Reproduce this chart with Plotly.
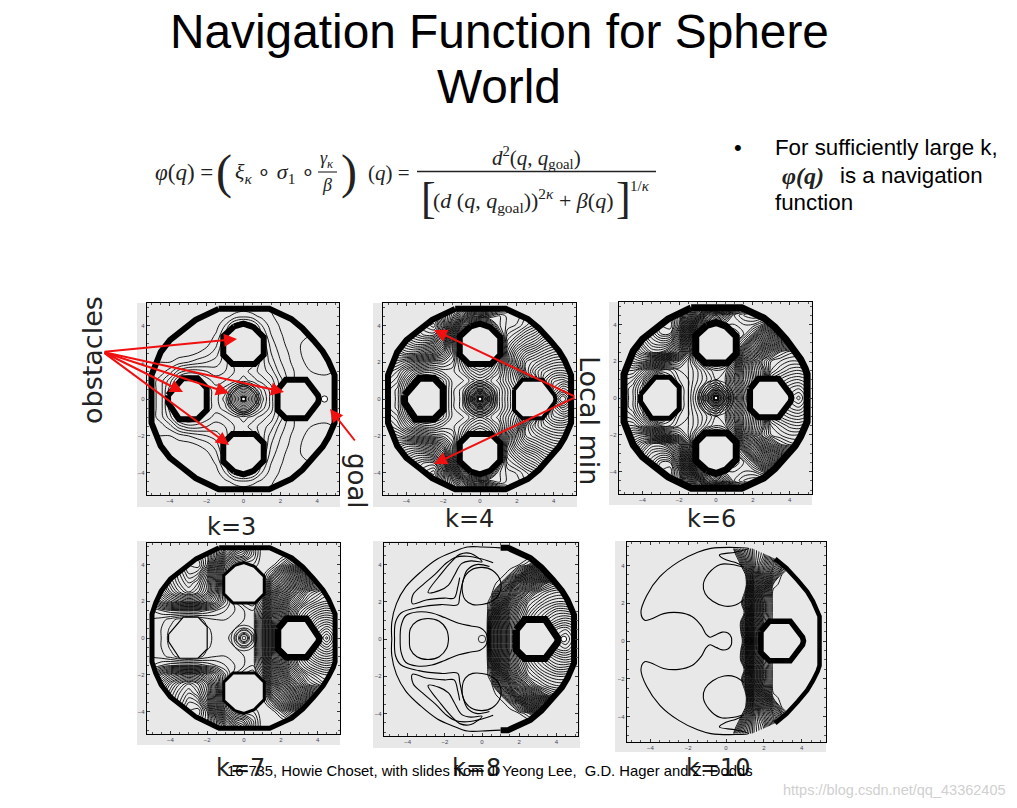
import plotly.graph_objects as go

W, H = 1017, 808
# ---------- data ----------
k_labels = ["k=3", "k=4", "k=6", "k=7", "k=8", "k=10"]
tick_vals = [-4, -2, 0, 2, 4]
x_full = [-5, -4.5, -4, -3.5, -3, -2.5, -2, -1.5, -1, -.5, 0, .5, 1, 1.5, 2, 2.5, 3, 3.5, 4, 4.5, 5]
x_right = [-5, 0, .5, 1, 1.5, 2, 2.5, 3, 3.5, 4, 4.5, 5]
x_right_k8 = [-5, .25, .5, 1, 1.5, 2, 2.5, 3, 3.5, 4, 4.5, 5]
y_half = [0, .5, 1, 1.5, 2, 2.5, 3, 3.5, 4, 4.5, 5]

z_k3 = [
 [4, 5, 8, 11, 12, 11, 10, 9, 11, 16, 24, 16, 11, 8, 5, 3, 2, 2, 1.8, 1.7, 2],
 [4, 5, 8, 11, 12, 11, 10, 9, 10, 13, 16, 13, 10, 8, 5, 3, 2, 2, 2, 2, 2],
 [4, 5, 7, 10, 11, 10, 9, 8, 8.5, 9, 10, 9, 8, 7, 5, 3, 2, 2, 2, 2, 2],
 [4, 4, 5, 7, 8, 8, 7.5, 7, 7.5, 8.5, 9, 8, 7, 6, 4, 3, 2, 1.6, 1.3, 1.2, 1.6],
 [3.5, 3.5, 3.5, 4, 4.5, 5, 5.5, 6, 7, 9, 10, 9, 7, 5, 3.6, 2.6, 1.8, 1.3, 1.1, 1.1, 1.2],
 [3, 3, 3, 3, 3, 3.5, 4, 5, 7, 10, 11, 10, 7, 4.5, 3.2, 2.4, 1.6, 1.2, 1, 1, 1.1],
 [2.6, 2.6, 2.6, 2.6, 2.6, 2.8, 3.2, 4.2, 6.5, 10, 11, 10, 6.5, 4, 2.8, 2.2, 1.6, 1.2, 1, 1, 1.1],
 [2.6, 2.6, 2.6, 2.6, 2.6, 2.6, 2.8, 3.6, 5.5, 9, 11, 9, 5.5, 3.5, 2.6, 2.1, 1.7, 1.6, 1.5, 1.4, 1.4],
 [2.6, 2.6, 2.6, 2.6, 2.6, 2.6, 2.6, 3, 4.5, 7, 8, 7, 4.5, 3, 2.4, 2, 1.8, 1.8, 1.8, 1.8, 1.8],
 [2.6, 2.6, 2.6, 2.6, 2.6, 2.6, 2.6, 2.8, 3.2, 3.8, 4.2, 3.8, 3.2, 2.6, 2.2, 2, 1.9, 1.9, 1.9, 1.9, 1.9],
 [2.6, 2.6, 2.6, 2.6, 2.6, 2.6, 2.6, 2.6, 2.7, 2.8, 2.9, 2.8, 2.7, 2.4, 2.2, 2, 1.9, 1.9, 1.9, 1.9, 1.9],
]
z_k4 = [
 [20, 21, 24, 27, 28, 27, 25, 23, 24, 27, 30, 27, 24, 22, 20, 16, 12, 7, 3, 0, 3],
 [20, 21, 24, 27, 28, 27, 25, 23, 24, 26, 27, 26, 24, 22, 20, 17, 13, 9, 5, 3, 4],
 [19, 20, 23, 26, 27, 26, 25, 23, 23, 24, 25, 24, 23, 21, 19, 16, 12, 8, 6, 5.5, 6.5],
 [18, 19, 21, 23, 24, 24, 23, 23, 24, 26, 27, 26, 24, 21, 18, 13, 10.5, 9, 8.2, 8, 8.5],
 [17, 17, 18, 19, 20, 21, 21, 22, 25, 28, 29, 28, 25, 20, 16, 13, 12, 11, 10.2, 10, 10.4],
 [16, 15, 14, 14, 15, 16, 18, 21, 26, 30, 30, 30, 26, 20, 17, 15, 14, 13, 12.2, 12, 12.4],
 [14, 13, 12, 11, 11, 12, 15, 21, 27, 30, 30, 30, 27, 21, 19, 17.5, 16.5, 15, 14.2, 14, 14.4],
 [13, 11, 10, 9, 8, 8, 12, 19, 26, 30, 30, 30, 26, 22, 21, 19.5, 18.5, 17, 16.2, 16, 16.4],
 [12, 10, 9, 8, 7, 6, 10, 16, 23, 28, 29, 28, 24, 23, 22.5, 21.5, 20.5, 19, 18.2, 18, 18.4],
 [11, 10, 9, 8, 8, 8, 11, 14, 18, 22, 23, 23, 24, 23, 23, 22, 21.5, 21, 20.5, 20, 20.5],
 [11, 10, 9, 9, 9, 9, 11, 13, 15, 16, 17, 18, 20, 22, 23, 23, 23, 23, 23, 23, 23],
]
z_k6 = [
 [34, 36, 40, 46, 50, 46, 42, 40, 44, 50, 56, 50, 42, 34, 28, 20, 14, 8, 2.5, .5, 4],
 [34, 36, 40, 46, 50, 46, 42, 40, 43, 47, 50, 46, 40, 33, 27, 20, 10, 6, 4, 3, 5],
 [33, 34, 38, 44, 48, 44, 41, 40, 42, 44, 46, 45, 38, 31, 26, 20, 10, 8, 6.5, 6, 7],
 [31, 31, 34, 38, 42, 42, 40, 40, 42, 45, 47, 46, 40, 31, 25, 20, 13, 11, 9.5, 9, 10],
 [29, 27, 26, 28, 31, 34, 36, 40, 45, 50, 52, 50, 44, 33, 25, 18, 14, 13, 12, 12, 12.5],
 [27, 24, 21, 18, 18, 21, 27, 36, 46, 52, 54, 54, 48, 39, 32, 25, 20, 16, 14.5, 14, 15],
 [25, 22, 18, 15, 14, 15, 22, 34, 46, 54, 56, 54, 50, 46, 38, 33, 28, 24, 22, 22, 23],
 [24, 20, 16, 13, 10, 10, 18, 31, 45, 54, 58, 54, 52, 50, 46, 40, 36, 33, 33, 33, 33],
 [24, 19, 15, 12, 9, 8, 14, 26, 40, 50, 56, 50, 50, 50, 50, 48, 45, 44, 44, 44, 45],
 [24, 20, 16, 13, 11, 10, 14, 22, 32, 44, 50, 44, 50, 52, 53, 53, 53, 52, 52, 52, 52],
 [24, 21, 18, 15, 14, 14, 16, 20, 26, 32, 36, 32, 40, 46, 50, 52, 53, 53, 53, 53, 53],
]
z_k7 = [
 [55, 56, 57.5, 59, 60, 59, 57.5, 56.5, 56.5, 58, 60, 58, 50, 38, 28, 20, 14, 9, 4, .5, 5],
 [55, 56, 57.2, 58.5, 59, 58.5, 57.2, 56.5, 56.5, 57, 58, 58, 50, 38, 28, 20, 14, 10, 6, 4, 6],
 [55, 55.5, 56.5, 57.5, 58, 57.5, 56.5, 56, 56, 56.5, 57, 58, 50, 38, 30, 22, 16, 12, 9, 8, 9],
 [54, 53, 52, 52, 52, 52, 53, 54, 55, 56, 57, 58, 52, 41, 32, 24, 18, 15, 13, 12, 13],
 [50, 46, 43, 41, 40, 41, 44, 48, 53, 57, 59, 60, 55, 44, 36, 28, 23, 19, 17, 16, 17],
 [46, 42, 38, 35, 33, 35, 39, 46, 54, 58, 60, 61, 59, 48, 40, 33, 27, 22, 20, 18, 20],
 [44, 40, 36, 33, 31, 33, 38, 46, 55, 60, 62, 62, 62, 52, 46, 40, 34, 30, 27, 26, 27],
 [43, 39, 35, 32, 29, 30, 36, 45, 54, 60, 62, 62, 62, 58, 52, 47, 42, 39, 37, 36, 37],
 [43, 38, 34, 31, 28, 27, 32, 42, 52, 58, 60, 60, 62, 62, 59, 55, 52, 50, 48, 48, 49],
 [43, 39, 35, 32, 30, 29, 32, 38, 46, 52, 54, 58, 62, 62, 62, 60, 58, 58, 58, 58, 58],
 [43, 40, 37, 34, 33, 32, 34, 38, 42, 46, 50, 58, 62, 62, 62, 62, 60, 60, 60, 60, 60],
]
z_k8 = [
 [60, 60, 50, 38, 27, 20, 14, 10, 6, 2.5, .5, 4],
 [60, 60, 50, 38, 27, 20, 15, 11, 7, 4, 3, 5],
 [60, 60, 52, 39, 28, 21, 16, 13, 10, 8, 7, 8],
 [60, 60, 55, 41, 30, 23, 18, 15, 13, 11, 11, 12],
 [60, 60, 57, 46, 34, 26, 20, 18, 16, 15, 15, 16],
 [60, 60, 60, 50, 41, 32, 25, 21, 19, 18, 18, 19],
 [60, 60, 60, 58, 50, 40, 34, 29, 24, 22, 22, 23],
 [60, 60, 60, 60, 58, 52, 45, 40, 36, 33, 32, 33],
 [60, 60, 60, 60, 60, 59, 57, 52, 47, 45, 44, 45],
 [60, 60, 60, 60, 60, 60, 60, 59, 58, 56, 56, 57],
 [60, 60, 60, 60, 60, 60, 60, 60, 60, 60, 60, 60],
]
z_k10 = [
 [60, 60, 60, 45, 20, 4, 0, 0, 0, 0, 0, 0],
 [60, 60, 58, 42, 20, 6, 0, 0, 0, 0, 0, 0],
 [60, 60, 57, 42, 22, 8, 0, 0, 0, 0, 0, 0],
 [60, 60, 60, 48, 25, 10, 0, 0, 0, 0, 0, 0],
 [60, 60, 58, 44, 25, 10, 0, 0, 0, 0, 0, 0],
 [60, 60, 60, 48, 28, 12, 0, 0, 0, 0, 0, 0],
 [60, 60, 60, 52, 32, 18, 2, 0, 0, 0, 0, 0],
 [60, 60, 60, 50, 34, 22, 10, 0, 0, 0, 0, 0],
 [60, 60, 56, 44, 32, 24, 16, 7, 0, 0, 0, 0],
 [60, 60, 50, 40, 32, 27, 18, 5, 0, 0, 0, 0],
 [60, 60, 45, 38, 32, 28, 18, 5, 0, 0, 0, 0],
]

# obstacle and wall outlines
wall_x = [-1.35, 1.4, 2.6, 3.2, 3.8, 4.3, 4.6, 4.85, 4.95, 4.95, 4.85, 4.6, 4.3, 3.8, 3.2, 2.6, 1.4,
          -1.35, -2.6, -3.3, -4, -4.5, -4.8, -5, -5, -4.8, -4.5, -4, -3.3, -2.6, -1.35]
wall_y = [4.9, 4.9, 4.35, 3.85, 3.2, 2.6, 2.1, 1.6, 1.3, -1.3, -1.6, -2.1, -2.6, -3.2, -3.85, -4.35, -4.9,
          -4.9, -4.3, -3.75, -3.2, -2.55, -1.9, -1.3, 1.3, 1.9, 2.55, 3.2, 3.75, 4.3, 4.9]
wall_k8_x = [1.0, 1.4, 2.6, 3.2, 3.8, 4.3, 4.6, 4.85, 4.95, 4.95, 4.85, 4.6, 4.3, 3.8, 3.2, 2.6, 1.4, 1.0]
wall_k8_y = [4.9, 4.9, 4.35, 3.85, 3.2, 2.6, 2.1, 1.6, 1.3, -1.3, -1.6, -2.1, -2.6, -3.2, -3.85, -4.35, -4.9, -4.9]
wall_k10_x = wall_k8_x[2:-2]
wall_k10_y = wall_k8_y[2:-2]
top_x = [-.5, 0, .55, 1.1, 1.1, .6, -.6, -1.1, -1.1, -.5]
top_y = [3.95, 4.1, 3.9, 3.35, 2.4, 1.9, 1.9, 2.4, 3.4, 3.95]
bottom_y = [-3.95, -4.1, -3.9, -3.35, -2.4, -1.9, -1.9, -2.4, -3.4, -3.95]
left_x = [-4.1, -3.3, -2.5, -2, -2, -2.5, -3.5, -4.1, -4.1]
left_y = [.2, 1.13, 1.13, .6, -.6, -1.1, -1.1, -.2, .2]
right_x = [1.85, 2.3, 3.4, 4.05, 4.1, 4.05, 3.4, 2.3, 1.85, 1.85]
right_y = [.5, 1.05, 1.05, .2, 0, -.2, -1.05, -1.05, -.6, .5]

# sparse contours typed from the two rightmost lower panels (upper half; mirrored below)
k10_outer_x = [.3, .28, .1, -.2, -.5, -.85, -1.05, -1.3, -1.8, -2.5, -3.3, -4, -4.3, -4.5, -4.2, -3.5, -2.5, -1.5, -.8, .5, 1.2, .5, -.35, 0, .5, .85]
k10_outer_y = [0, .2, .42, .47, .35, .2, .35, .8, 1.3, 1.5, 1.45, 1.15, 1.1, 1.5, 2.4, 3.4, 4.2, 4.7, 4.9, 4.95, 4.9, 4.7, 4.55, 4.3, 4.15, 4.0]
k10_ring_x = [.95, .3, -.3, -.9, -1.2, -1.1, -.7, -.1, .5, .95]
k10_ring_y = [3.9, 4.05, 4.05, 3.6, 3, 2.5, 2.1, 1.85, 1.9, 2.2]
k8_a_x = [-4.4, -4.35, -4.1, -3.5, -2.7, -2, -1.25, -.6, -.1, .2, .3]
k8_a_y = [0, .7, 1.25, 1.45, 1.4, 1.15, .85, .7, .6, .35, 0]
k8_b_x = [-3.9, -3.85, -3.5, -2.9, -2.3, -1.9, -1.8]
k8_b_y = [0, .55, .95, 1.1, .95, .5, 0]
k8_c_x = [-4.85, -4.85, -4.6, -4.1, -3.3, -2.4, -1.5, -.8, 0, 1]
k8_c_y = [0, .9, 1.9, 2.8, 3.6, 4.3, 4.7, 4.95, 4.95, 4.9]
k8_d_x = [-4.7, -4.65, -4.35, -3.4, -2.2, -1.3, -1.2, -1.05, -.8, -.3, .4]
k8_d_y = [0, .9, 1.4, 1.7, 1.85, 1.85, 2.3, 3, 3.7, 4, 3.9]
k8_e_x = [.6, 0, -.8, -1.4, -1.9, -2.5, -3.2, -3.7, -3.75, -3, -2, -1.5, -1.3, -1.2]
k8_e_y = [4.1, 4.3, 4.45, 4.4, 4.1, 3.5, 2.9, 2.4, 1.9, 2.1, 2.2, 2.2, 2.8, 3.3]
k8_f_x = [-2.9, -2.3, -1.8, -1.5, -1.1, -.6, 0, -.6, -1.2, -1.6, -2.2, -2.9]
k8_f_y = [2.5, 2.6, 2.9, 3.4, 4.05, 4.2, 4.15, 4.6, 4.55, 4.2, 3.5, 2.5]
k8_g_x = [-.9, -1.05, -1.0, -.6, 0, .55, 1, .95, .5, -.5, -.9]
k8_g_y = [2.1, 2.5, 3.2, 3.7, 3.85, 3.7, 3.1, 2.5, 2.0, 1.85, 2.1]

center_rings_k3 = [.12, .2, .28, .36, .44, .52, .6, .68, .76, .86]
center_rings_k4 = [.12, .18, .24, .3, .36, .42, .48, .54, .6, .68, .76, .84, .92]
center_rings_k6 = [.1, .16, .22, .28, .34, .42, .5, .6, .7, .82, .95]
center_rings_k7 = [.1, .2, .3, .42, .55, .7]
center_rings_k8 = [.2]

# ---------- layout of the six panels in pixels ----------
panels = [
 dict(f=(147, 339, 303, 495), g=(137, 340, 303, 507), c=(243.5, 399), s=18.4),
 dict(f=(383, 576, 303, 495), g=(373, 577, 303, 507), c=(480, 399), s=18.4),
 dict(f=(619, 812, 302, 494), g=(609, 812, 302, 505), c=(716, 398), s=18.4),
 dict(f=(147, 340, 543, 734), g=(137, 340, 541, 745), c=(244, 638), s=18.4),
 dict(f=(384, 578, 543, 736), g=(373, 580, 541, 748), c=(482, 639), s=18.6),
 dict(f=(627, 826, 542, 742), g=(615, 826, 541, 752), c=(726, 641), s=18.9),
]
GRAY = "#e8e8e8"
INK = "#000000"
fig = go.Figure()
layout = dict(width=W, height=H, margin=dict(l=0, r=0, t=0, b=0), paper_bgcolor="white",
              plot_bgcolor=GRAY, showlegend=False)
shapes, ann = [], []

def mirror(rows):
    return rows[:0:-1] + rows

y_full = [-v for v in y_half[:0:-1]] + y_half

def line(ax, xs, ys, w, fill=False, color="#000000", spline=False):
    fig.add_trace(go.Scatter(x=xs, y=ys, mode="lines", xaxis=ax[0], yaxis=ax[1], hoverinfo="skip",
                             line=dict(color=color, width=w, shape="spline" if spline else "linear"),
                             fill="toself" if fill else None, fillcolor=GRAY if fill else None))

conf = [
 dict(x=x_full, z=z_k3, lv=(1.5, 13.5, 1), wall=6, ob=(6, 6, 6), rings=center_rings_k3, dot=True, goal=.17,
      wx=wall_x, wy=wall_y),
 dict(x=x_full, z=z_k4, lv=(1, 30, .6), wall=6, ob=(7, 6, 4), rings=center_rings_k4, dot=True, goal=None,
      wx=wall_x, wy=wall_y),
 dict(x=x_full, z=z_k6, lv=(1, 58, 1), wall=7, ob=(5, 7, 6), rings=center_rings_k6, dot=True, goal=None,
      wx=wall_x, wy=wall_y),
 dict(x=x_full, z=z_k7, lv=(1, 64, 1), wall=5, ob=(1.2, 3, 6.5), rings=center_rings_k7, dot=False, goal=None,
      wx=wall_x, wy=wall_y),
 dict(x=x_right_k8, z=z_k8, lv=(2, 59, 1), wall=6, ob=(0, 0, 7), rings=center_rings_k8, dot=False, goal=.15,
      wx=wall_k8_x, wy=wall_k8_y),
 dict(x=x_right, z=z_k10, lv=(1, 50, 1.2), wall=4.5, ob=(0, 0, 5.5), rings=[], dot=False, goal=None,
      wx=wall_k10_x, wy=wall_k10_y),
]

for i, (p, cf) in enumerate(zip(panels, conf)):
    n = "" if i == 0 else str(i + 1)
    xa, ya = "x" + n, "y" + n
    fx0, fx1, fy0, fy1 = p["f"]
    cx, cy = p["c"]
    s = p["s"]
    xr = [(fx0 - cx) / s, (fx1 - cx) / s]
    yr = [(cy - fy1) / s, (cy - fy0) / s]
    axis = dict(range=None, tickvals=tick_vals, ticks="inside", ticklen=3, tickwidth=.7, tickcolor="#333",
                tickfont=dict(size=6, color="#445", family="Liberation Sans"), showgrid=False, zeroline=False,
                showline=True, linecolor="#000", linewidth=1.3, mirror="allticks",
                minor=dict(dtick=.5, ticks="inside", ticklen=1.5, tickcolor="#555", tickwidth=.5))
    layout["xaxis" + n] = {**axis, "range": xr, "domain": [fx0 / W, fx1 / W], "anchor": ya}
    layout["yaxis" + n] = {**axis, "range": yr, "domain": [1 - fy1 / H, 1 - fy0 / H], "anchor": xa}
    gx0, gx1, gy0, gy1 = p["g"]
    shapes.append(dict(type="rect", xref="paper", yref="paper", x0=gx0 / W, x1=gx1 / W, y0=1 - gy1 / H,
                       y1=1 - gy0 / H, fillcolor=GRAY, line=dict(width=0), layer="below"))
    st, en, sz = cf["lv"]
    fig.add_trace(go.Contour(x=cf["x"], y=y_full, z=mirror(cf["z"]), xaxis=xa, yaxis=ya, showscale=False,
                             autocontour=False, contours=dict(coloring="lines", start=st, end=en, size=sz),
                             colorscale=[[0, INK], [1, INK]], line=dict(width=.9, smoothing=1), hoverinfo="skip"))
    # grey mask outside the wall
    mx = [xr[0] - .5, xr[1] + .5, xr[1] + .5, xr[0] - .5, xr[0] - .5] + wall_x[::-1]
    my = [yr[1] + .5, yr[1] + .5, yr[0] - .5, yr[0] - .5, yr[1] + .5] + wall_y[::-1]
    line((xa, ya), mx + [xr[0] - .5], my + [yr[1] + .5], 0, fill=True, color=GRAY)
    # obstacles and wall
    wl, wt, wr = cf["ob"]
    if wl:
        line((xa, ya), left_x, left_y, wl, fill=True)
    if wt:
        line((xa, ya), top_x, top_y, wt, fill=True)
        line((xa, ya), top_x, bottom_y, wt, fill=True)
    line((xa, ya), right_x, right_y, wr, fill=True)
    line((xa, ya), cf["wx"], cf["wy"], cf["wall"])
    for r in cf["rings"]:
        shapes.append(dict(type="circle", xref=xa, yref=ya, x0=-r, x1=r, y0=-r, y1=r,
                           line=dict(color=INK, width=.8), layer="above"))
    if cf["dot"]:
        fig.add_trace(go.Scatter(x=[0], y=[0], mode="markers", xaxis=xa, yaxis=ya, hoverinfo="skip",
                                 marker=dict(symbol="square", size=4, color="white", line=dict(color="#000", width=1.5))))
    if cf["goal"]:
        r = cf["goal"]
        shapes.append(dict(type="circle", xref=xa, yref=ya, x0=4.4 - r, x1=4.4 + r, y0=-r, y1=r,
                           line=dict(color=INK, width=.9), fillcolor="white", layer="above"))
    if i == 4:
        for xs, ys in [(k8_a_x, k8_a_y), (k8_b_x, k8_b_y), (k8_c_x, k8_c_y), (k8_d_x, k8_d_y),
                       (k8_e_x, k8_e_y), (k8_f_x, k8_f_y), (k8_g_x, k8_g_y)]:
            line((xa, ya), xs, ys, 1.1, spline=True)
            line((xa, ya), xs, [-v for v in ys], 1.1, spline=True)
    if i == 5:
        for xs, ys in [(k10_outer_x, k10_outer_y), (k10_ring_x, k10_ring_y)]:
            line((xa, ya), xs, ys, 1.1, spline=True)
            line((xa, ya), xs, [-v for v in ys], 1.1, spline=True)

# ---------- text ----------
def text(px, py, t, size, family="Liberation Sans", color="#000", anchor="center", angle=0):
    ann.append(dict(x=px / W, y=1 - py / H, xref="paper", yref="paper", text=t, showarrow=False,
                    font=dict(size=size, family=family, color=color), xanchor=anchor, yanchor="middle",
                    textangle=angle))

text(499, 31, "Navigation Function for Sphere", 47.8)
text(499, 87, "World", 47.8)

SERIF = "Liberation Serif"
text(153, 173, "<i>φ</i>(<i>q</i>) =", 23, SERIF, "#222", "left")
text(224, 172, "(", 48, SERIF, "#222")
text(233, 173, "<i>ξ<sub>κ</sub></i> ∘ <i>σ</i><sub>1</sub> ∘", 22, SERIF, "#222", "left")
text(327, 160, "<i>γ<sub>κ</sub></i>", 18, SERIF, "#222")
text(327, 185, "<i>β</i>", 18, SERIF, "#222")
shapes.append(dict(type="line", xref="paper", yref="paper", x0=318 / W, x1=337 / W, y0=1 - 172 / H,
                   y1=1 - 172 / H, line=dict(color="#222", width=1.1)))
text(349, 172, ")", 48, SERIF, "#222")
text(366, 173, "(<i>q</i>) =", 21, SERIF, "#222", "left")
text(536, 157, "<i>d</i><sup>2</sup>(<i>q</i>, <i>q</i><sub>goal</sub>)", 21, SERIF, "#222")
text(419, 198, "[", 44, SERIF, "#222", "left")
text(431, 200, "(<i>d</i> (<i>q</i>, <i>q</i><sub>goal</sub>))<sup>2<i>κ</i></sup> + <i>β</i>(<i>q</i>)", 22, SERIF, "#222", "left")
text(614, 198, "]", 44, SERIF, "#222", "left")
text(628, 186, "1/<i>κ</i>", 15, SERIF, "#222", "left")
shapes.append(dict(type="line", xref="paper", yref="paper", x0=417 / W, x1=656 / W, y0=1 - 171.5 / H,
                   y1=1 - 171.5 / H, line=dict(color="#222", width=1.4)))

text(738, 148, "•", 22)
text(773, 148, "For sufficiently large k,", 22.3, anchor="left")
text(780, 176, "<b><i>φ(q)</i></b>", 24, SERIF, "#222", "left")
text(838, 176, "is a navigation", 22.3, anchor="left")
text(773, 202, "function", 22.3, anchor="left")

DV = "DejaVu Sans"
for (px, py), lab in zip([(231, 527), (469, 519), (711, 519), (240, 768), (476, 768), (718, 768)], k_labels):
    text(px, py, lab, 24, DV, "#222")
text(93, 360, "obstacles", 27, DV, "#222", angle=-90)
text(357, 481, "goal", 26, DV, "#222", angle=90)
text(590, 420, "Local min", 27, DV, "#222", angle=90)
text(225, 771, "16-735, Howie Choset, with slides from Ji Yeong Lee,  G.D. Hager and Z. Dodds", 14.8, anchor="left")
text(1008, 790, "https://blog.csdn.net/qq_43362405", 14.5, color="#d0d0d0", anchor="right")

# ---------- red arrows ----------
arrows = [(103, 352, 237, 339), (103, 352, 183, 392), (103, 352, 229, 393), (103, 352, 284, 392),
          (103, 352, 229, 445), (356, 442, 330, 409), (576, 397, 434, 330), (576, 397, 434, 464)]
for x0, y0, x1, y1 in arrows:
    ann.append(dict(x=x1 / W, y=1 - y1 / H, xref="paper", yref="paper", text="", showarrow=True, ax=x0 - x1,
                    ay=y0 - y1, axref="pixel", ayref="pixel", arrowcolor="#f01010", arrowwidth=2, arrowhead=2,
                    arrowsize=1.3, standoff=0))

layout["shapes"] = shapes
layout["annotations"] = ann
fig.update_layout(**layout)
fig.write_html("out.html", post_script="document.body.style.margin='0';", config={"displayModeBar": False})
